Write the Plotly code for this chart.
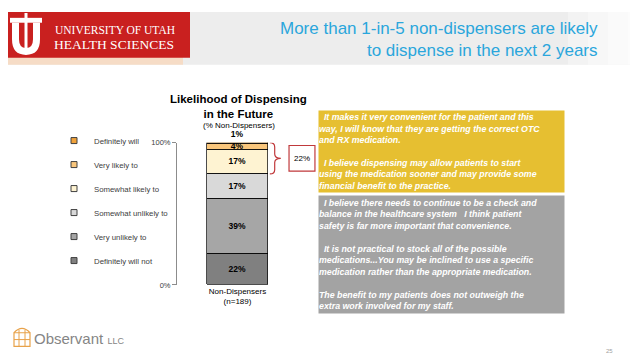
import plotly.graph_objects as go

# ---------------- data ----------------
categories = ["Definitely will not", "Very unlikely to", "Somewhat unlikely to",
              "Somewhat likely to", "Very likely to", "Definitely will"]
values = [22, 39, 17, 17, 4, 1]
colors = ["#808080", "#a6a6a6", "#d9d9d9", "#fef3d2", "#f9c67c", "#f0a23a"]
likely_categories = ["Somewhat likely to", "Very likely to", "Definitely will"]
bar_label = "Non-Dispensers<br>(n=189)"
y_ticks = [0, 100]
y_ticktext = ["0%", "100%"]

W, H = 638, 359
def X(px): return px / W
def Y(py): return 1 - py / H
def P(x, y): return f"{X(x)},{Y(y)}"

fig = go.Figure()

# stacked bar segments
n = len(values)
for i, (cat, v, c) in enumerate(zip(categories, values, colors)):
    fig.add_trace(go.Bar(
        x=[0], y=[v], name=cat, width=1,
        marker=dict(color=c, line=dict(color="#000000", width=0.7)),
        text=[f"<b>{v}%</b>"],
        textposition="outside" if i == n - 1 else "inside",
        insidetextanchor="middle",
        constraintext="none",
        textfont=dict(size=8.5, color="#000000", family="Liberation Sans"),
        cliponaxis=False, showlegend=False, hoverinfo="skip"))

# legend entries (small squares, top to bottom)
for cat, c in reversed(list(zip(categories, colors))):
    fig.add_trace(go.Scatter(
        x=[None], y=[None], mode="markers", name=cat, legendgroup=cat,
        marker=dict(symbol="square", size=6, color=c,
                    line=dict(color="#404040", width=1)),
        showlegend=True))

likely_total = sum(v for c, v in zip(categories, values) if c in likely_categories)
ytop = sum(values)
ybot = ytop - likely_total
ymid = (ytop + ybot) / 2
d = 3
x0, x1, x2 = 0.53, 0.61, 0.71
brace = (f"M {x0},{ytop} Q {x1},{ytop} {x1},{ytop-d} L {x1},{ymid+d} "
         f"Q {x1},{ymid} {x2},{ymid} Q {x1},{ymid} {x1},{ymid-d} "
         f"L {x1},{ybot+d} Q {x1},{ybot} {x0},{ybot}")

shapes = []
# header background
shapes.append(dict(type="rect", xref="paper", yref="paper", x0=0, x1=1, y0=Y(54), y1=1,
                   fillcolor="#ededed", line=dict(width=0), layer="below"))
for k in range(4):
    shapes.append(dict(type="rect", xref="paper", yref="paper", x0=X(560 + k * 20), x1=1,
                       y0=Y(54), y1=1, fillcolor="#ffffff", opacity=0.35,
                       line=dict(width=0), layer="below"))
shapes.append(dict(type="rect", xref="paper", yref="paper", x0=0, x1=X(175), y0=Y(54), y1=Y(46),
                   fillcolor="#f6dcc6", line=dict(width=0), layer="below"))
# red logo box
shapes.append(dict(type="rect", xref="paper", yref="paper", x0=0, x1=X(182), y0=Y(47), y1=1,
                   fillcolor="#c9201f", line=dict(width=0)))
u_path = (f"M {P(4,11)} L {P(4,28)} Q {P(4,44)} {P(18,44)} Q {P(32,44)} {P(32,28)} "
          f"L {P(32,11)} L {P(25,11)} L {P(25,28)} Q {P(25,37)} {P(18,37)} "
          f"Q {P(11,37)} {P(11,28)} L {P(11,11)} Z")
shapes.append(dict(type="path", xref="paper", yref="paper", path=u_path,
                   fillcolor="#ffffff", line=dict(width=0)))
shapes.append(dict(type="rect", xref="paper", yref="paper", x0=X(2), x1=X(34), y0=Y(11), y1=Y(6),
                   fillcolor="#ffffff", line=dict(width=0)))
shapes.append(dict(type="rect", xref="paper", yref="paper", x0=X(16.5), x1=X(19.5), y0=Y(40), y1=Y(1),
                   fillcolor="#ffffff", line=dict(width=0)))
# brace and 22% box
shapes.append(dict(type="path", xref="x", yref="y", path=brace,
                   line=dict(color="#c0393b", width=1.2)))
shapes.append(dict(type="rect", xref="x", yref="y", x0=0.845, x1=1.27,
                   y0=ymid - 9, y1=ymid + 9, fillcolor="#ffffff",
                   line=dict(color="#c0393b", width=1.2)))
# footer icon
shapes.append(dict(type="rect", xref="paper", yref="paper", x0=X(6), x1=X(22), y0=Y(343), y1=Y(329),
                   fillcolor="rgba(0,0,0,0)", line=dict(color="#e8a24a", width=1.2)))
for xx in [11, 17]:
    shapes.append(dict(type="line", xref="paper", yref="paper", x0=X(xx), x1=X(xx), y0=Y(343), y1=Y(326),
                       line=dict(color="#e8a24a", width=1)))
shapes.append(dict(type="line", xref="paper", yref="paper", x0=X(6), x1=X(22), y0=Y(336), y1=Y(336),
                   line=dict(color="#e8a24a", width=1)))
shapes.append(dict(type="path", xref="paper", yref="paper",
                   path=f"M {P(6,329)} Q {P(14,320)} {P(22,329)}",
                   line=dict(color="#e8a24a", width=1.2)))

yellow_text = ("&nbsp;&nbsp;It makes it very convenient for the patient and this<br>"
               "way, I will know that they are getting the correct OTC<br>"
               "and RX medication.<br><br>"
               "&nbsp;&nbsp;I believe dispensing may allow patients to start<br>"
               "using the medication sooner and may provide some<br>"
               "financial benefit to the practice.")
gray_text = ("&nbsp;&nbsp;I believe there needs to continue to be a check and<br>"
             "balance in the healthcare system &nbsp;&nbsp;I think patient<br>"
             "safety is far more important that convenience.<br><br>"
             "&nbsp;&nbsp;It is not practical to stock all of the possible<br>"
             "medications...You may be inclined to use a specific<br>"
             "medication rather than the appropriate medication.<br><br>"
             "The benefit to my patients does not outweigh the<br>"
             "extra work involved for my staff.")

SANS = "Liberation Sans"
annotations = [
    dict(xref="paper", yref="paper", x=X(592), y=Y(28), xanchor="right", yanchor="middle",
         text="More than 1-in-5 non-dispensers are likely<br>to dispense in the next 2 years",
         align="right", showarrow=False, font=dict(family=SANS, size=17, color="#2aa6dc")),
    dict(xref="paper", yref="paper", x=X(45), y=Y(18), xanchor="left", yanchor="middle",
         text="UNIVERSITY OF UTAH", showarrow=False,
         font=dict(family="Liberation Serif", size=11.5, color="#ffffff")),
    dict(xref="paper", yref="paper", x=X(44), y=Y(33), xanchor="left", yanchor="middle",
         text="HEALTH SCIENCES", showarrow=False,
         font=dict(family="Liberation Serif", size=13.5, color="#ffffff")),
    dict(xref="paper", yref="paper", x=X(230), y=Y(97), xanchor="center", yanchor="middle",
         text="<b>Likelihood of Dispensing<br>in the Future</b>", showarrow=False,
         font=dict(family=SANS, size=11.5, color="#000000")),
    dict(xref="paper", yref="paper", x=X(231), y=Y(116), xanchor="center", yanchor="middle",
         text="(% Non-Dispensers)", showarrow=False,
         font=dict(family=SANS, size=8, color="#000000")),
    dict(xref="x", yref="y", x=1.057, y=ymid, text=f"{likely_total}%", showarrow=False,
         font=dict(family=SANS, size=8, color="#000000")),
    dict(xref="paper", yref="paper", x=X(310), y=Y(101), xanchor="left", yanchor="top",
         text=f"<b><i>{yellow_text}</i></b>", showarrow=False, align="left", valign="middle",
         width=245, height=81, borderpad=0, bgcolor="#e6bf31",
         font=dict(family=SANS, size=8.8, color="#ffffff")),
    dict(xref="paper", yref="paper", x=X(310), y=Y(188), xanchor="left", yanchor="top",
         text=f"<b><i>{gray_text}</i></b>", showarrow=False, align="left", valign="middle",
         width=245, height=117, borderpad=0, bgcolor="#a3a3a3",
         font=dict(family=SANS, size=8.8, color="#ffffff")),
    dict(xref="paper", yref="paper", x=X(24), y=Y(335), xanchor="left", yanchor="middle",
         text="Observant <span style='font-size:9px'>LLC</span>", showarrow=False,
         font=dict(family=SANS, size=15, color="#858585")),
    dict(xref="paper", yref="paper", x=X(601), y=Y(348), xanchor="center", yanchor="middle",
         text="25", showarrow=False, font=dict(family=SANS, size=6, color="#a0a0a0")),
]

fig.update_layout(
    width=W, height=H, autosize=False,
    margin=dict(l=0, r=0, t=0, b=0),
    paper_bgcolor="#ffffff", plot_bgcolor="rgba(0,0,0,0)",
    barmode="stack", bargap=0,
    showlegend=True,
    legend=dict(x=X(46), y=Y(117), xanchor="left", yanchor="top",
                traceorder="grouped", tracegroupgap=5,
                font=dict(family=SANS, size=7.8, color="#404040"),
                bgcolor="rgba(0,0,0,0)", itemwidth=30),
    xaxis=dict(domain=[X(169), X(320)], range=[-0.992, 1.484], tickvals=[0], ticktext=[bar_label],
               showgrid=False, zeroline=False, showline=False, ticks="",
               tickfont=dict(family=SANS, size=8, color="#000000"), fixedrange=True),
    yaxis=dict(domain=[Y(280), Y(134)], range=[0, 100], tickvals=y_ticks, ticktext=y_ticktext,
               showgrid=False, zeroline=False, showline=True, linecolor="#8c8c8c", linewidth=1,
               ticks="outside", ticklen=4, tickcolor="#8c8c8c",
               tickfont=dict(family=SANS, size=7.5, color="#404040"), fixedrange=True),
    shapes=shapes, annotations=annotations,
)

fig.write_html("out.html")
